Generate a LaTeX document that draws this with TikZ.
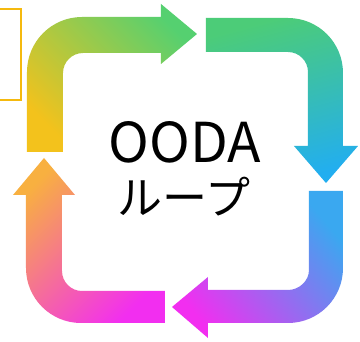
\documentclass[tikz,border=0pt]{standalone}
\usepackage{fontspec}
\newfontfamily\jpfont{Noto Sans CJK JP}
\definecolor{cyel}{HTML}{F3C21C}
\definecolor{cygreen}{HTML}{A9D35A}
\definecolor{cgreen}{HTML}{55D070}
\definecolor{cgreenb}{HTML}{4CCC78}
\definecolor{cblue}{HTML}{22AEF0}
\definecolor{cblue2}{HTML}{3AA8F0}
\definecolor{cmag}{HTML}{F22EF0}
\definecolor{corange}{HTML}{F8B040}
\definecolor{cbox}{HTML}{F5B90E}
\tikzset{
  loopshape/.style={draw=none},
  label/.style={text=black, inner sep=0pt},
}
\begin{document}
\begin{tikzpicture}[x=1pt,y=-1pt]
\useasboundingbox (0,0) rectangle (360,342);
\fill[white] (0,0) rectangle (360,342);
% partial box at left
\draw[cbox, line width=2pt] (-10,9) rectangle (21.5,100);
% arrow 1 (top-left, pointing right)
\shade[loopshape, bottom color=cyel, top color=cgreen, shading angle=-45]
  (27,152) -- (27,72) .. controls (27,41.6) and (51.6,17) .. (82,17)
  -- (161,17) -- (161,4) -- (197,34) -- (161,64) -- (161,53)
  -- (83,53) .. controls (72,53) and (63,62) .. (63,73) -- (63,152) -- cycle;
% arrow 2 (top-right, pointing down)
\shade[loopshape, top color=cgreenb, bottom color=cblue, shading angle=15]
  (206,18) -- (288,18) .. controls (318.4,18) and (343,42.6) .. (343,73)
  -- (343,146) -- (358,146) -- (326,183) -- (294,146) -- (308,146)
  -- (308,72) .. controls (308,61) and (299,52) .. (288,52) -- (206,52) -- cycle;
% arrow 3 (bottom-right, pointing left)
\shade[loopshape, top color=cblue2, bottom color=cmag, shading angle=-50]
  (309,191) -- (343,191) -- (343,268) .. controls (343,298.4) and (318.4,323) .. (288,323)
  -- (208,323) -- (208,338) -- (172,307) -- (208,277) -- (208,290)
  -- (288,290) .. controls (299,290) and (309,281) .. (309,270) -- cycle;
% arrow 4 (bottom-left, pointing up)
\shade[loopshape, top color=corange, bottom color=cmag, shading angle=45]
  (165,291) -- (165,323) -- (81,323) .. controls (50.6,323) and (26,298.4) .. (26,268)
  -- (26,195) -- (13,195) -- (44,158) -- (75,195) -- (62,195)
  -- (62,271) .. controls (62,282) and (71,291) .. (82,291) -- cycle;
% text
\node[label, anchor=base, font=\jpfont\fontsize{55}{60}\selectfont] (ooda) at (185,163) {OODA};
\node[label, anchor=center, font=\jpfont\fontsize{45}{50}\selectfont] (loop) at (184,197) {ループ};
\end{tikzpicture}
\end{document}
